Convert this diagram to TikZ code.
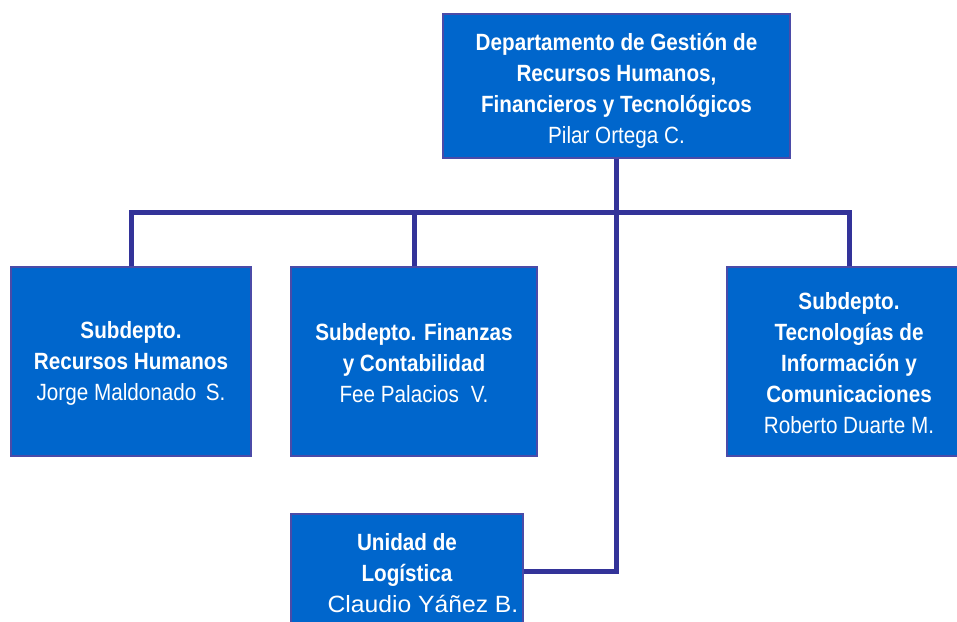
\documentclass[tikz,border=0pt]{standalone}
\usepackage{fontspec}
\setmainfont{Liberation Sans}[FakeStretch=0.88]
\newfontfamily\widename{Liberation Sans}[FakeStretch=1.05]
\definecolor{boxfill}{HTML}{0066CC}
\definecolor{boxline}{HTML}{4B4BA8}
\definecolor{connline}{HTML}{333399}
\begin{document}
\begin{tikzpicture}[x=1pt,y=-1pt,
  orgbox/.style={draw=boxline, line width=1.4pt, fill=boxfill, inner sep=0pt},
  boxtext/.style={text=white, inner sep=0pt, align=center, font=\fontsize{23.5}{31}\selectfont},
  conn/.style={draw=connline, line width=5pt}]
\useasboundingbox (0,0) rectangle (957,621);
\node[orgbox, minimum width=347, minimum height=144] (top) at (616.5,86) {};
\node[boxtext] (topt) at ([yshift=-4.5pt]top.center)
  {\textbf{Departamento de Gestión de}\\\textbf{Recursos Humanos,}\\\textbf{Financieros y Tecnológicos}\\Pilar Ortega C.};
\node[orgbox, minimum width=240, minimum height=189] (b1) at (131,361.5) {};
\node[boxtext] (b1t) at ([yshift=-2pt]b1.center)
  {\textbf{Subdepto.}\\\textbf{Recursos Humanos}\\Jorge Maldonado\hspace{0.4em}S.};
\node[orgbox, minimum width=246, minimum height=189] (b2) at (414,361.5) {};
\node[boxtext] (b2t) at ([yshift=-2pt]b2.center)
  {\textbf{Subdepto. Finanzas}\\\textbf{y Contabilidad}\\Fee Palacios\hspace{0.5em}V.};
\node[orgbox, minimum width=244, minimum height=189] (b4) at (849,361.5) {};
\node[boxtext] (b4t) at ([yshift=-2pt]b4.center)
  {\textbf{Subdepto.}\\\textbf{Tecnologías de}\\\textbf{Información y}\\\textbf{Comunicaciones}\\Roberto Duarte M.};
\node[orgbox, minimum width=232, minimum height=114] (b5) at (407,571) {};
\node[boxtext] (b5t) at (407,573)
  {\textbf{Unidad de}\\\textbf{Logística}\\\hspace*{32pt}{\widename Claudio Yáñez B.}};
\coordinate (bus) at (616.5,212);
\draw[conn] (b1.north) |- (bus) -| (b4.north);
\draw[conn] (b2.north) -- (b2.north |- bus);
\draw[conn] (top.south) |- (b5.east);
\end{tikzpicture}
\end{document}
